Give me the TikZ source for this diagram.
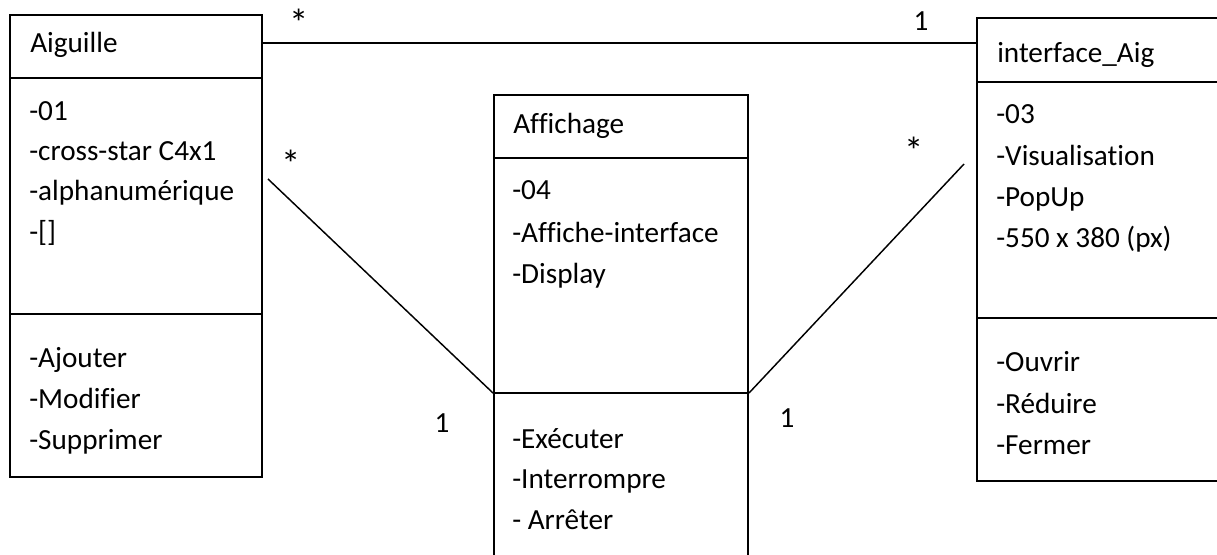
\documentclass[tikz,border=0pt]{standalone}
\usepackage{fontspec}
\setmainfont{Carlito}[Ligatures=NoCommon]
\begin{document}
\begin{tikzpicture}[x=0.75pt,y=-0.75pt,
  box/.style={draw=black, line width=1.5pt, inner sep=0pt, anchor=north west},
  sep/.style={line width=1.5pt},
  assoc/.style={line width=1.1pt},
  txt/.style={anchor=base west, inner sep=0pt, font=\fontsize{21.9}{26}\selectfont},
  mult/.style={anchor=base, inner sep=0pt, font=\fontsize{21.9}{26}\selectfont},
  star/.style={anchor=base, inner sep=0pt, font=\fontsize{29}{32}\selectfont}]
\useasboundingbox (0,0) rectangle (1217,554);
\clip (0,0) rectangle (1217,554);
\fill[white] (0,0) rectangle (1217,554);

% class boxes
\node[box, minimum width=189pt, minimum height=346.5pt] (aig) at (9,14) {};
\node[box, minimum width=190.5pt, minimum height=357pt] (aff) at (493,94) {};
\node[box, minimum width=186.75pt, minimum height=347.25pt] (ifc) at (976,17) {};

% compartment separators
\draw[sep] (aig.west |- 0,78) -- (aig.east |- 0,78);
\draw[sep] (aig.west |- 0,314) -- (aig.east |- 0,314);
\draw[sep] (aff.west |- 0,158) -- (aff.east |- 0,158);
\draw[sep] (aff.west |- 0,393) -- (aff.east |- 0,393);
\draw[sep] (ifc.west |- 0,82) -- (ifc.east |- 0,82);
\draw[sep] (ifc.west |- 0,318) -- (ifc.east |- 0,318);

% Aiguille
\node[txt] (aigT) at (30,52) {Aiguille};
\node[txt] (aigA1) at (29,120) {-01};
\node[txt] (aigA2) at (29,160) {-cross-star C4x1};
\node[txt] (aigA3) at (29,200) {-alphanumérique};
\node[txt] (aigA4) at (29,241) {-[]};
\node[txt] (aigM1) at (29,367) {-Ajouter};
\node[txt] (aigM2) at (29,408) {-Modifier};
\node[txt] (aigM3) at (29,449) {-Supprimer};

% Affichage
\node[txt] (affT) at (513,133) {Affichage};
\node[txt] (affA1) at (512,199) {-04};
\node[txt] (affA2) at (512,242) {-Affiche-interface};
\node[txt] (affA3) at (512,283) {-Display};
\node[txt] (affM1) at (512,448) {-Exécuter};
\node[txt] (affM2) at (512,488) {-Interrompre};
\node[txt] (affM3) at (512,529) {- Arrêter};

% interface_Aig
\node[txt] (ifcT) at (997,62) {interface\_Aig};
\node[txt] (ifcA1) at (996,123) {-03};
\node[txt] (ifcA2) at (996,165) {-Visualisation};
\node[txt] (ifcA3) at (996,206) {-PopUp};
\node[txt] (ifcA4) at (996,247) {-550 x 380 (px)};
\node[txt] (ifcM1) at (996,371) {-Ouvrir};
\node[txt] (ifcM2) at (996,413) {-Réduire};
\node[txt] (ifcM3) at (996,454) {-Fermer};

% associations
\coordinate (lstart) at (268,179);
\coordinate (rstart) at (964,164);
\draw[assoc] (aig.east |- 0,43) -- (ifc.west |- 0,43);
\draw[assoc] (lstart) -- (aff.west |- 0,393);
\draw[assoc] (rstart) -- (aff.east |- 0,393);

% multiplicities
\node[star] (m1) at (299,36) {*};
\node[mult] (m2) at (921,30) {1};
\node[star] (m3) at (291,177) {*};
\node[star] (m4) at (914,164) {*};
\node[mult] (m5) at (442,432) {1};
\node[mult] (m6) at (787,427) {1};
\end{tikzpicture}
\end{document}
